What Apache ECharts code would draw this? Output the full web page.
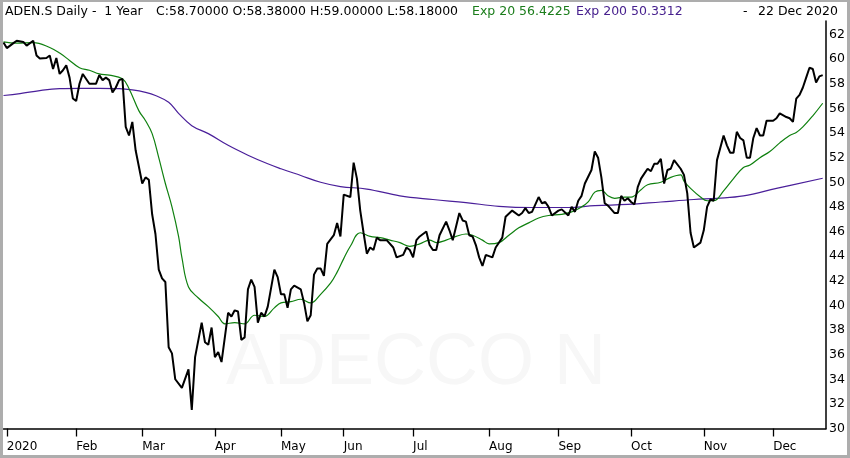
<!DOCTYPE html>
<html>
<head>
<meta charset="utf-8">
<script src="https://cdn.jsdelivr.net/npm/echarts@6/dist/echarts.min.js"></script>
<style>
  html, body { margin: 0; padding: 0; background: #fff; }
  #wrap { position: relative; width: 850px; height: 458px; }
  #chart { position: absolute; left: 0; top: 0; width: 850px; height: 458px; }
  #frame { position: absolute; left: 0; top: 0; width: 850px; height: 458px; box-sizing: border-box;
           border-style: solid; border-color: #adadad; border-width: 2px 3px 3px 3px; pointer-events: none; }
</style>
</head>
<body>
<div id="wrap"><div id="chart"></div><div id="frame"></div></div>
<script>
// ---- data ----
const firstDate = '2019-12-30';
const lastDate = '2020-12-22';
const holidays = ['2020-01-01','2020-01-02','2020-04-10','2020-04-13','2020-05-01','2020-05-21','2020-06-01'];
const monthNames = ['2020','Feb','Mar','Apr','May','Jun','Jul','Aug','Sep','Oct','Nov','Dec'];
const yTicks = { min: 30, max: 63.1, step: 2 };

// close prices: [trading-day index, value]
const closePrices = [[0,61.35],[1,60.9],[3,61.3],[4,61.5],[6,61.4],[7,61.1],[9,61.5],[10,60.3],[11,60.05],[13,60.1],[14,60.3],[15,59.2],[16,60.1],[17,58.8],[18,59.1],[19,59.5],[20,58.5],[21,56.8],[22,56.6],[23,58.0],[24,58.8],[26,58.0],[28,58.0],[29,58.7],[30,58.3],[31,58.5],[32,58.3],[33,57.3],[34,57.7],[35,58.3],[36,58.4],[37,54.5],[38,53.8],[39,54.9],[40,52.6],[42,49.9],[43,50.4],[44,50.2],[45,47.4],[46,45.8],[47,42.9],[48,42.2],[49,41.9],[50,36.6],[51,36.1],[52,34.0],[54,33.3],[56,34.8],[57,31.5],[58,35.8],[60,38.6],[61,37.0],[62,36.8],[63,38.2],[64,35.8],[65,36.2],[66,35.4],[68,39.4],[69,39.1],[70,39.6],[71,39.5],[72,37.2],[73,37.4],[74,41.3],[75,42.1],[76,41.5],[77,38.6],[78,39.4],[79,39.1],[80,39.9],[82,42.9],[83,42.3],[84,40.9],[85,40.9],[86,39.8],[87,41.3],[88,41.6],[90,41.3],[91,40.2],[92,38.7],[93,39.2],[94,42.5],[95,43.0],[96,43.0],[97,42.4],[98,45.0],[100,45.7],[101,46.7],[102,45.6],[103,49.0],[105,48.8],[106,51.6],[107,50.3],[108,47.7],[109,45.9],[110,44.2],[111,44.7],[112,44.5],[113,45.5],[114,45.3],[116,45.3],[118,44.7],[119,43.9],[121,44.1],[122,44.7],[123,44.5],[124,43.9],[125,45.3],[126,45.6],[128,46.0],[129,44.9],[130,44.5],[131,44.5],[132,45.7],[134,46.8],[135,46.1],[136,45.3],[138,47.5],[139,46.9],[140,46.8],[141,45.7],[142,45.6],[143,44.9],[144,43.9],[145,43.2],[146,44.1],[148,43.9],[149,44.7],[151,45.5],[152,47.2],[154,47.7],[156,47.3],[157,47.5],[158,47.9],[159,47.5],[160,47.6],[162,48.8],[163,48.3],[164,48.4],[165,48.0],[166,47.3],[168,47.7],[169,47.8],[171,47.3],[172,48.0],[173,47.6],[174,48.5],[175,48.9],[176,49.9],[178,51.0],[179,52.5],[180,52.0],[181,50.4],[182,48.3],[183,48.1],[185,47.5],[186,47.5],[187,48.9],[188,48.5],[189,48.7],[190,48.4],[191,48.2],[192,49.6],[193,50.3],[194,50.7],[195,51.1],[196,50.9],[197,51.5],[198,51.5],[199,51.9],[200,49.9],[201,51.0],[202,51.1],[203,51.8],[205,51.1],[206,50.6],[207,49.1],[208,45.9],[209,44.7],[211,45.1],[212,46.1],[213,48.0],[214,48.6],[215,48.5],[216,51.8],[218,53.8],[219,53.0],[220,52.4],[221,52.4],[222,54.1],[223,53.6],[224,53.4],[225,52.0],[226,52.0],[227,53.6],[228,54.4],[229,53.8],[230,53.8],[231,55.0],[233,55.0],[234,55.2],[235,55.6],[237,55.3],[238,55.2],[239,54.9],[240,56.8],[241,57.1],[242,57.7],[243,58.5],[244,59.3],[245,59.2],[246,58.1],[247,58.6],[248,58.7]];

// Exp 20 moving average
const exp20 = [[0,61.4],[4,61.3],[9,61.35],[14,60.95],[17,60.5],[20,59.9],[23,59.3],[26,59.1],[29,58.8],[32,58.7],[36,58.4],[38,57.6],[41,55.8],[43,55.0],[45,53.95],[47,52.0],[49,49.9],[51,48.0],[53,45.6],[54,43.9],[56,41.5],[59,40.6],[62,39.9],[65,39.1],[67,38.5],[70,38.6],[73,38.5],[76,39.2],[79,39.1],[82,39.8],[84,40.2],[87,40.3],[90,40.5],[93,40.2],[96,40.9],[99,41.8],[101,42.7],[103,43.8],[105,44.8],[108,45.9],[111,45.6],[114,45.5],[117,45.3],[120,45.1],[123,44.8],[126,45.0],[129,45.3],[131,45.1],[134,45.3],[137,45.6],[140,45.8],[142,45.7],[145,45.3],[147,45.0],[150,45.1],[153,45.7],[156,46.3],[159,46.7],[162,47.1],[165,47.3],[169,47.4],[172,47.6],[175,48.0],[177,48.4],[179,49.2],[181,49.35],[183,48.9],[185,48.7],[188,48.8],[190,48.8],[193,49.4],[195,49.8],[199,50.0],[202,50.4],[205,50.6],[206,50.1],[208,49.5],[211,48.8],[213,48.5],[215,48.5],[218,49.3],[221,50.3],[224,51.2],[226,51.4],[229,52.0],[232,52.5],[235,53.2],[238,53.8],[240,54.05],[242,54.5],[245,55.4],[248,56.42]];

// Exp 200 moving average
const exp200 = [[0,57.05],[5,57.2],[11,57.45],[17,57.6],[23,57.62],[29,57.62],[35,57.6],[39,57.5],[43,57.3],[46,57.05],[50,56.5],[53,55.6],[57,54.6],[62,53.95],[68,53.0],[74,52.2],[80,51.5],[84,51.1],[90,50.55],[96,50.0],[102,49.65],[110,49.45],[120,48.9],[130,48.6],[140,48.35],[150,48.05],[160,47.95],[171,47.95],[179,48.1],[189,48.2],[199,48.4],[209,48.6],[216,48.7],[224,48.9],[234,49.5],[248,50.33]];

// ---- category axis: trading days ----
function buildDates() {
  const out = [firstDate];
  let t = Date.UTC(2020, 0, 1);
  const end = Date.parse(lastDate + 'T00:00:00Z');
  while (t <= end) {
    const d = new Date(t);
    const dow = d.getUTCDay();
    const s = d.toISOString().slice(0, 10);
    if (dow !== 0 && dow !== 6 && holidays.indexOf(s) < 0) out.push(s);
    t += 86400000;
  }
  out.push('');
  return out;
}
const dates = buildDates();
function isMonthStart(i) {
  if (i === 0 || !dates[i]) return false;
  return dates[i].slice(0, 7) !== dates[i - 1].slice(0, 7);
}

const FONT = 'DejaVu Sans';
const chart = echarts.init(document.getElementById('chart'), null, { renderer: 'canvas' });
chart.setOption({
  animation: false,
  backgroundColor: '#ffffff',
  grid: { left: 3.5, right: 24, top: 21, bottom: 29.5, containLabel: false },
  graphic: [
    { type: 'text', z: 0, position: [416, 364], style: { text: 'ADECCO N', x: 0, y: 0, textAlign: 'center', textVerticalAlign: 'middle', fill: '#f7f7f7', font: '72px "Liberation Sans"' } },
    { type: 'text', position: [5, 5], style: { text: 'ADEN.S Daily -  1 Year', fill: '#000', font: '12.5px "DejaVu Sans"' } },
    { type: 'text', position: [156, 5], style: { text: 'C:58.70000 O:58.38000 H:59.00000 L:58.18000', fill: '#000', font: '12.5px "DejaVu Sans"' } },
    { type: 'text', position: [472, 5], style: { text: 'Exp 20 56.4225', fill: '#1b7d1b', font: '12.5px "DejaVu Sans"' } },
    { type: 'text', position: [576, 5], style: { text: 'Exp 200 50.3312', fill: '#47208e', font: '12.5px "DejaVu Sans"' } },
    { type: 'text', position: [743, 5], style: { text: '-', fill: '#000', font: '12.5px "DejaVu Sans"' } },
    { type: 'text', position: [758, 5], style: { text: '22 Dec 2020', fill: '#000', font: '12.5px "DejaVu Sans"' } }
  ],
  xAxis: {
    type: 'category',
    data: dates,
    boundaryGap: false,
    axisLine: { show: true, lineStyle: { color: '#000', width: 1.5 } },
    axisTick: { show: true, length: 8, interval: (i) => isMonthStart(i), lineStyle: { color: '#000', width: 1.3 } },
    axisLabel: {
      interval: (i) => isMonthStart(i),
      formatter: (v) => monthNames[parseInt(v.slice(5, 7), 10) - 1],
      align: 'left', margin: 12, color: '#000', fontFamily: FONT, fontSize: 12
    },
    splitLine: { show: false }
  },
  yAxis: {
    type: 'value',
    position: 'right',
    min: yTicks.min, max: yTicks.max, interval: yTicks.step,
    axisLine: { show: true, lineStyle: { color: '#000', width: 1.5 } },
    axisTick: { show: false },
    axisLabel: {
      color: '#000', fontFamily: FONT, fontSize: 12.5, margin: 3,
      formatter: (v) => (Math.abs(v - Math.round(v)) < 1e-6 && Math.round(v) % 2 === 0) ? String(Math.round(v)) : ''
    },
    splitLine: { show: false }
  },
  series: [
    { name: 'Exp 200', type: 'line', data: exp200, smooth: 0.4, showSymbol: false, lineStyle: { color: '#4a1f9a', width: 1.2 }, z: 2 },
    { name: 'Exp 20', type: 'line', data: exp20, smooth: 0.4, showSymbol: false, lineStyle: { color: '#0f800f', width: 1.2 }, z: 3 },
    { name: 'Close', type: 'line', data: closePrices, showSymbol: false, lineStyle: { color: '#000', width: 2 }, z: 4 }
  ]
});
</script>
</body>
</html>
